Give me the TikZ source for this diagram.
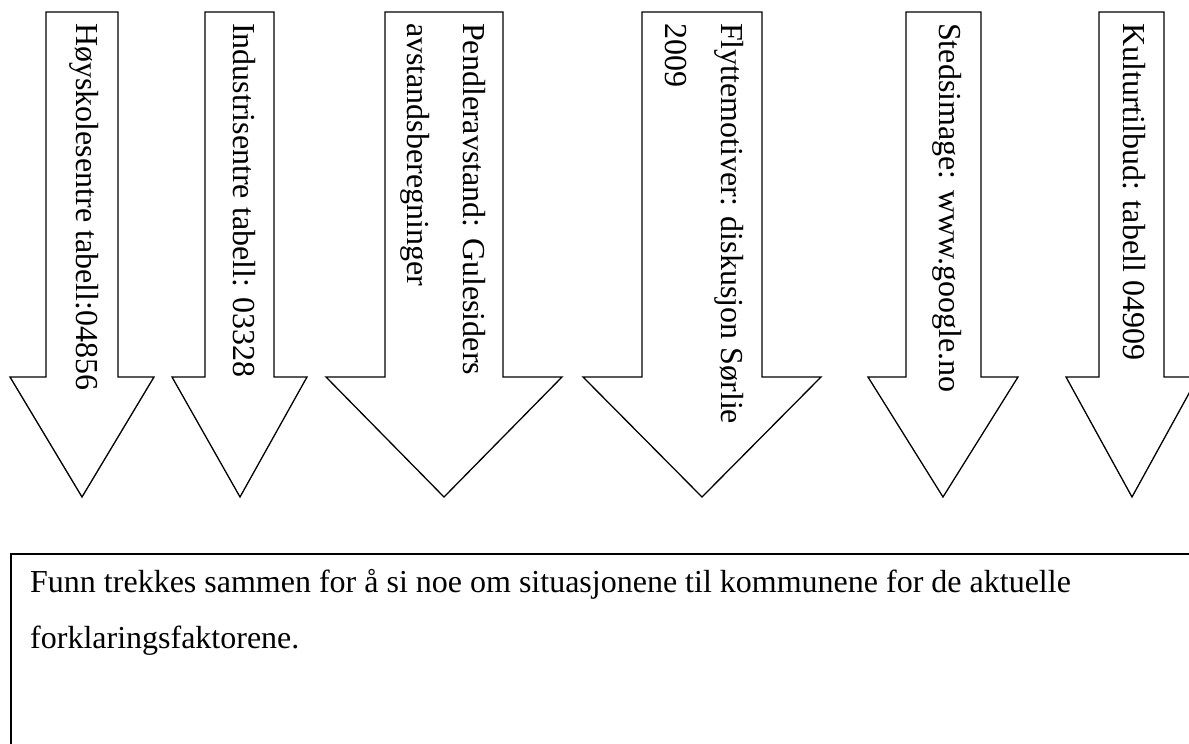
\documentclass[tikz,border=0pt]{standalone}
\usepackage{fontspec}
\setmainfont{Liberation Serif}
\begin{document}
\begin{tikzpicture}[x=1pt,y=-1pt,
  arrowshape/.style={draw=black,line width=1.3pt,line join=miter,fill=white},
  boxshape/.style={draw=black,line width=2.2pt},
  vlabel/.style={rotate=-90,anchor=north west,inner sep=0pt,align=left,
    font=\fontsize{32}{56}\selectfont},
  hlabel/.style={anchor=north west,inner sep=0pt,align=left,
    font=\fontsize{32}{56}\selectfont}]
\useasboundingbox (0,0) rectangle (1189,744);
\begin{scope}
\clip (0,0) rectangle (1189,744);
% arrows: shaft left, shaft right, head left, head right, tip x
\foreach \sl/\sr/\hl/\hr/\tx in {46/118/10/154/82, 205/274/172/307/240,
  385/503/326/562/444, 642/762/583/821/702, 906/981/868/1018/943,
  1099/1164/1066/1198/1132}{
  \draw[arrowshape] (\sl,12) -- (\sr,12) -- (\sr,377) -- (\hr,377) -- (\tx,497)
    -- (\hl,377) -- (\sl,377) -- cycle;
}
\node[boxshape,anchor=north west,minimum width=1200pt,minimum height=220pt,inner sep=0pt] (box) at (10,553) {};
\end{scope}
\node[vlabel] (t1) at (99,23) {Høyskolesentre tabell:04856};
\node[vlabel] (t2) at (256,23) {Industrisentre tabell: 03328};
\node[vlabel] (t3) at (486,23) {Pendleravstand: Gulesiders\\avstandsberegninger};
\node[vlabel] (t4) at (744,23) {Flyttemotiver: diskusjon Sørlie\\2009};
\node[vlabel] (t5) at (962,23) {Stedsimage: www.google.no};
\node[vlabel] (t6) at (1146,23) {Kulturtilbud: tabell 04909};
\node[hlabel] (t7) at (30,569) {Funn trekkes sammen for å si noe om situasjonene til kommunene for de aktuelle\\forklaringsfaktorene.};
\end{tikzpicture}
\end{document}
